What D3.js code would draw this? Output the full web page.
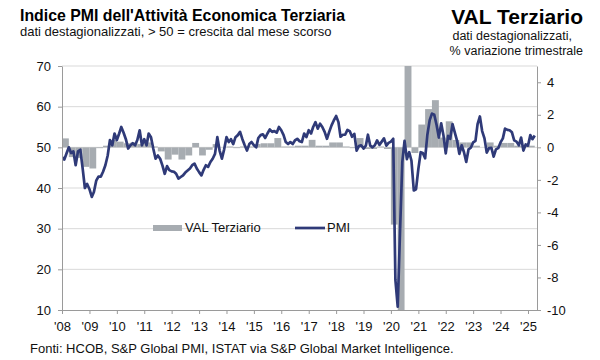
<!DOCTYPE html>
<html><head><meta charset="utf-8">
<script src="https://cdn.jsdelivr.net/npm/d3@7"></script>
<style>
body{margin:0;background:#fff}
svg{display:block;font-family:"Liberation Sans",Arial,sans-serif}
</style>
</head><body>
<svg id="c" width="600" height="360"></svg>
<script>
// ---- DATA ----
const pmiStart = [2008, 0]; // Jan 2008, monthly
const pmiValues = [
  47.6, 47.0, 48.5, 50.0, 48.6, 49.0, 45.6, 49.0, 49.4, 45.0, 40.0, 41.0,
  39.7, 37.8, 39.0, 41.8, 42.8, 42.8, 44.0, 45.6, 48.0, 51.8, 50.5, 53.4,
  51.8, 53.4, 55.0, 53.6, 52.0, 49.7, 50.5, 51.0, 50.5, 51.8, 54.2, 50.5,
  52.0, 50.5, 53.4, 52.5, 49.7, 47.2, 48.0, 47.2, 45.5, 43.5, 45.4, 44.4,
  44.1, 44.0, 43.5, 42.3, 42.7, 43.1, 43.8, 44.3, 44.8, 45.6, 46.0, 44.8,
  43.9, 43.1, 44.4, 45.6, 45.2, 46.4, 47.2, 48.4, 52.5, 49.2, 47.2, 49.5,
  52.5, 51.3, 52.0, 50.8, 52.5, 53.0, 53.8, 52.0, 50.5, 49.2, 50.8, 51.3,
  50.5, 50.0, 52.3, 53.0, 53.2, 52.3, 53.4, 54.4, 53.8, 54.0, 53.6, 55.0,
  54.2, 53.0, 51.3, 50.8, 51.3, 50.8, 51.7, 52.1, 51.5, 51.3, 53.4, 52.5,
  54.2, 53.4, 55.0, 56.2, 54.6, 55.8, 55.0, 53.8, 52.1, 53.8, 55.4, 56.6,
  57.7, 56.2, 52.6, 53.1, 53.1, 54.3, 54.0, 52.6, 53.3, 49.2, 50.3, 50.5,
  49.7, 50.4, 53.1, 50.4, 50.0, 50.5, 51.7, 50.6, 51.4, 52.2, 50.4, 51.1,
  51.4, 52.1, 17.4, 10.8, 28.9, 46.4, 51.6, 47.1, 48.8, 46.7, 39.4, 39.7,
  44.7, 48.8, 48.6, 47.3, 53.1, 56.7, 58.3, 58.0, 55.5, 52.4, 55.9, 53.0,
  48.5, 52.8, 52.1, 55.7, 53.7, 51.6, 48.4, 50.5, 48.8, 46.4, 49.5, 49.9,
  51.2, 51.6, 55.7, 57.6, 54.0, 52.2, 48.7, 49.8, 49.9, 47.7, 49.5, 49.8,
  51.2, 52.2, 54.6, 54.3, 54.2, 53.7, 51.7, 51.4, 50.5, 52.4, 49.2, 50.7,
  50.4, 53.0, 52.0, 52.9
];
const valStart = [2008, 0]; // Q1 2008, quarterly % q/q
const valValues = [
  0.55, -0.6, -0.65, -1.2,
  -1.3, -0.05, 0.1, 0.45,
  0.35, 0.25, 0.3, 0.2,
  0.3, 0.05, -0.25, -0.75,
  -0.45, -0.75, -0.5, 0.27,
  -0.5, -0.15, 0.2, 0.0,
  0.05, -0.05, 0.05, 0.05,
  0.2, 0.25, 0.25, 0.57,
  0.05, 0.05, 0.1, 0.1,
  0.46, 0.1, 0.1, 0.3,
  0.3, 0.05, -0.05, 0.57,
  -0.1, -0.1, 0.05, -0.1,
  -4.75, -12.5, 13.5, -0.35,
  1.4, 2.35, 2.9, 0.6,
  1.6, 0.45, 0.3, 0.3,
  0.1, 0.0, 0.3, 0.1,
  0.27, 0.27, 0.1, 0.1,
  0.1
];
const yearTicks = [2008,2009,2010,2011,2012,2013,2014,2015,2016,2017,2018,2019,2020,2021,2022,2023,2024,2025];
const yearLabels = ["'08","'09","'10","'11","'12","'13","'14","'15","'16","'17","'18","'19","'20","'21","'22","'23","'24","'25"];
const leftTicks = [10,20,30,40,50,60,70];
const rightTicks = [-10,-8,-6,-4,-2,0,2,4];
const seriesNames = ["VAL Terziario","PMI"];

// ---- CHART ----
const svg = d3.select("#c");
const M = {l:62, r:537, t:66, b:310};
const lineColor = "#2f3a78", barColor = "#a7acb1", gridColor = "#d9d9d9", axisColor = "#9a9a9a";

const x = d3.scaleTime().domain([new Date(2008,0,1), new Date(2025,4,1)]).range([M.l, M.r]);
const yL = d3.scaleLinear().domain([10,70]).range([M.b, M.t]);
const yR = d3.scaleLinear().domain([-10,5]).range([M.b, M.t]);

svg.append("defs").append("clipPath").attr("id","clip")
  .append("rect").attr("x",M.l).attr("y",M.t).attr("width",M.r-M.l).attr("height",M.b-M.t);

// gridlines
svg.append("g").selectAll("line").data(leftTicks.filter(d=>d>10)).join("line")
  .attr("x1",M.l).attr("x2",M.r).attr("y1",d=>yL(d)).attr("y2",d=>yL(d))
  .attr("stroke",gridColor).attr("stroke-width",1);

// bars
const bars = valValues.map((v,i)=>{
  const s = new Date(valStart[0], valStart[1] + 3*i, 1);
  const e = new Date(valStart[0], valStart[1] + 3*(i+1), 1);
  return {s, e, v};
});
svg.append("g").attr("clip-path","url(#clip)").selectAll("rect").data(bars).join("rect")
  .attr("x",d=>x(d.s)).attr("width",d=>x(d.e)-x(d.s))
  .attr("y",d=>yR(Math.max(0,d.v))).attr("height",d=>Math.abs(yR(d.v)-yR(0)))
  .attr("fill",barColor);

// PMI line
const pts = pmiValues.map((v,i)=>({d:new Date(pmiStart[0], pmiStart[1]+i, 1), v}));
svg.append("path").datum(pts).attr("clip-path","url(#clip)")
  .attr("fill","none").attr("stroke",lineColor).attr("stroke-width",2.7)
  .attr("stroke-linejoin","round")
  .attr("d", d3.line().x(d=>x(d.d)).y(d=>yL(d.v)));

// axes
const styleAxis = g => {
  g.selectAll("path.domain").attr("stroke",axisColor);
  g.selectAll(".tick line").attr("stroke",axisColor);
  g.selectAll("text").attr("fill","#111").style("font-size","13px").style("font-family","'Liberation Sans',Arial,sans-serif");
};
svg.append("g").attr("transform",`translate(${M.l},0)`)
  .call(d3.axisLeft(yL).tickValues(leftTicks).tickSize(4).tickSizeOuter(0).tickPadding(7).tickFormat(d=>String(d)))
  .call(styleAxis);
svg.append("g").attr("transform",`translate(${M.r},0)`)
  .call(d3.axisRight(yR).tickValues(rightTicks).tickSize(4).tickSizeOuter(0).tickPadding(6).tickFormat(d=>String(d)))
  .call(styleAxis);
svg.append("g").attr("transform",`translate(0,${M.b})`)
  .call(d3.axisBottom(x).tickValues(yearTicks.map(y=>new Date(y,0,1))).tickSize(4).tickSizeOuter(0).tickPadding(8)
    .tickFormat((d,i)=>yearLabels[i]))
  .call(styleAxis);

// legend
const lg = svg.append("g");
lg.append("rect").attr("x",153).attr("y",225).attr("width",29).attr("height",6).attr("fill",barColor);
lg.append("text").attr("x",185).attr("y",232).text(seriesNames[0]).style("font-size","13px").attr("fill","#111");
lg.append("line").attr("x1",295).attr("x2",325).attr("y1",228).attr("y2",228).attr("stroke",lineColor).attr("stroke-width",2.7);
lg.append("text").attr("x",327).attr("y",232).text(seriesNames[1]).style("font-size","13px").attr("fill","#111");

// titles
svg.append("text").attr("x",20).attr("y",21).text("Indice PMI dell'Attività Economica Terziaria")
  .attr("textLength",325).attr("lengthAdjust","spacingAndGlyphs")
  .style("font-size","17px").style("font-weight","bold").attr("fill","#000");
svg.append("text").attr("x",20).attr("y",36).text("dati destagionalizzati, > 50 = crescita dal mese scorso")
  .style("font-size","13px").attr("fill","#111");
svg.append("text").attr("x",583).attr("y",24).attr("text-anchor","end").text("VAL Terziario")
  .style("font-size","21px").style("font-weight","bold").attr("fill","#000");
svg.append("text").attr("x",572).attr("y",40).attr("text-anchor","end").text("dati destagionalizzati,")
  .style("font-size","12.5px").attr("fill","#111");
svg.append("text").attr("x",583).attr("y",55).attr("text-anchor","end").text("% variazione trimestrale")
  .style("font-size","12.5px").attr("fill","#111");

// source
svg.append("text").attr("x",30).attr("y",353).text("Fonti: HCOB, S&P Global PMI, ISTAT via S&P Global Market Intelligence.")
  .style("font-size","13px").attr("fill","#111");
</script>
</body></html>
